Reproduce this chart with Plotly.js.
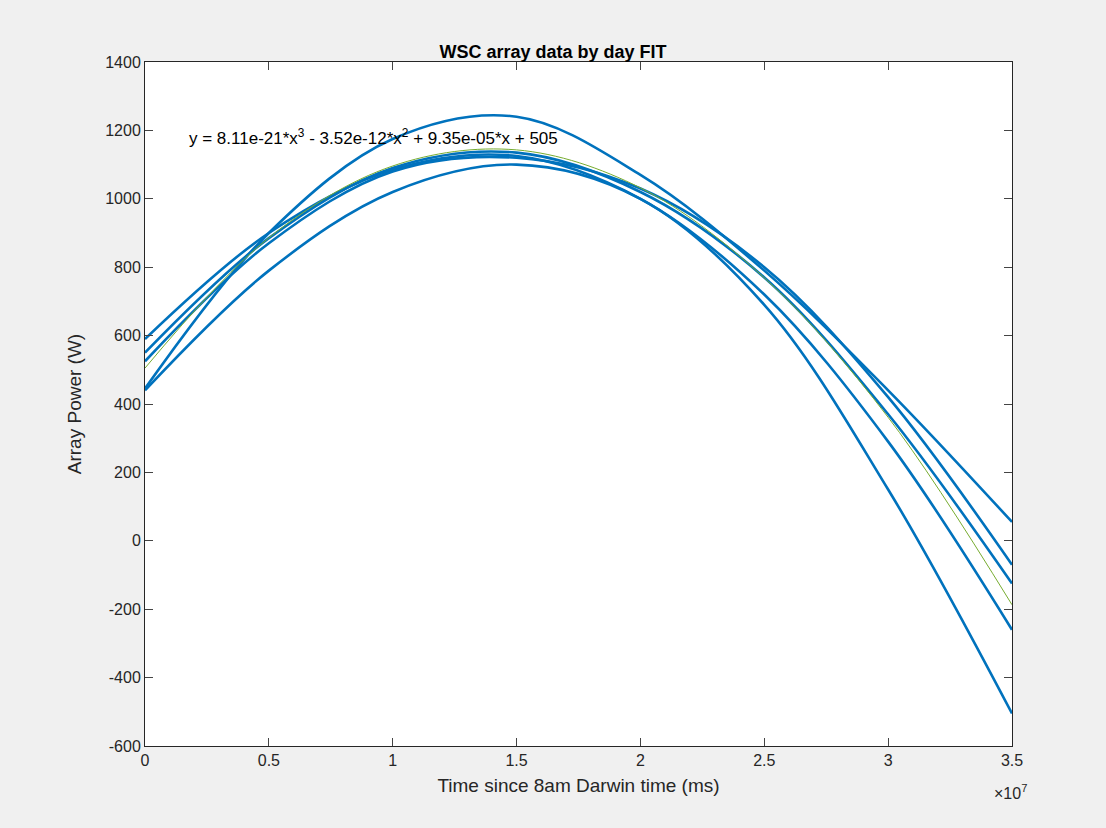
<!DOCTYPE html>
<html>
<head>
<meta charset="utf-8">
<script src="https://cdn.plot.ly/plotly-3.0.1.min.js"></script>
<style>body{margin:0;background:#f0f0f0;}</style>
</head>
<body>
<div id="graphDiv" style="width:1106px;height:828px;"></div>
<script>
// x samples (ms)
const xs = [0, 0.5e7, 1e7, 1.5e7, 2e7, 2.5e7, 3e7, 3.5e7];

// daily curves
const day1 = [445, 900, 1175, 1240, 1070, 790, 440, 55];
const day2 = [590, 900, 1085, 1125, 1000, 720, 290, -260];
const day3 = [550, 885, 1090, 1135, 1020, 770, 370, -125];
const day4 = [525, 870, 1080, 1120, 1030, 800, 420, -70];
const day5 = [440, 790, 1020, 1100, 1000, 690, 150, -505];
const fit = [505, 886, 1096, 1143, 1032, 769, 361, -187];

const xTicks = [0, 0.5e7, 1e7, 1.5e7, 2e7, 2.5e7, 3e7, 3.5e7];
const xTickText = ['0', '0.5', '1', '1.5', '2', '2.5', '3', '3.5'];
const yTicks = [-600, -400, -200, 0, 200, 400, 600, 800, 1000, 1200, 1400];
const yTickText = ['-600', '-400', '-200', '0', '200', '400', '600', '800', '1000', '1200', '1400'];

const blue = '#0072BD';
const days = [day1, day2, day3, day4, day5];
const traces = days.map(d => ({
  x: xs, y: d, mode: 'lines', line: {color: blue, width: 2.6, shape: 'spline'}
}));
traces.push({x: xs, y: fit, mode: 'lines', line: {color: '#77AC30', width: 1, shape: 'spline'}});

const axisFont = {family: 'Liberation Sans, Arial, sans-serif', size: 16, color: '#262626'};

Plotly.newPlot('graphDiv', traces, {
  width: 1106, height: 828,
  paper_bgcolor: '#f0f0f0', plot_bgcolor: '#ffffff',
  margin: {l: 145, r: 94, t: 62, b: 82},
  showlegend: false,
  font: axisFont,
  title: {text: '<b>WSC array data by day FIT</b>', x: 0.5, xanchor: 'center', y: 0.945,
          font: {family: 'Liberation Sans, Arial, sans-serif', size: 18, color: '#000'}},
  xaxis: {range: [0, 3.5e7], tickvals: xTicks, ticktext: xTickText, ticks: 'inside', ticklen: 8,
          showgrid: false, zeroline: false, showline: true, mirror: 'ticks', linecolor: '#262626',
          title: {text: 'Time since 8am Darwin time (ms)', font: {size: 19, color: '#262626'}, standoff: 10}},
  yaxis: {range: [-600, 1400], tickvals: yTicks, ticktext: yTickText, ticks: 'inside', ticklen: 8,
          showgrid: false, zeroline: false, showline: true, mirror: 'ticks', linecolor: '#262626',
          title: {text: 'Array Power (W)', font: {size: 19, color: '#262626'}, standoff: 18}},
  annotations: [
    {x: 0.17e7, y: 1180, xref: 'x', yref: 'y', xanchor: 'left', showarrow: false,
     text: 'y = 8.11e-21*x<sup>3</sup> - 3.52e-12*x<sup>2</sup> + 9.35e-05*x + 505',
     font: {size: 17, color: '#000'}},
    {x: 1.02, y: -0.05, xref: 'paper', yref: 'paper', xanchor: 'right', yanchor: 'top', showarrow: false,
     text: '×10<sup>7</sup>', font: {size: 16, color: '#262626'}}
  ]
}, {staticPlot: true});
</script>
</body>
</html>
